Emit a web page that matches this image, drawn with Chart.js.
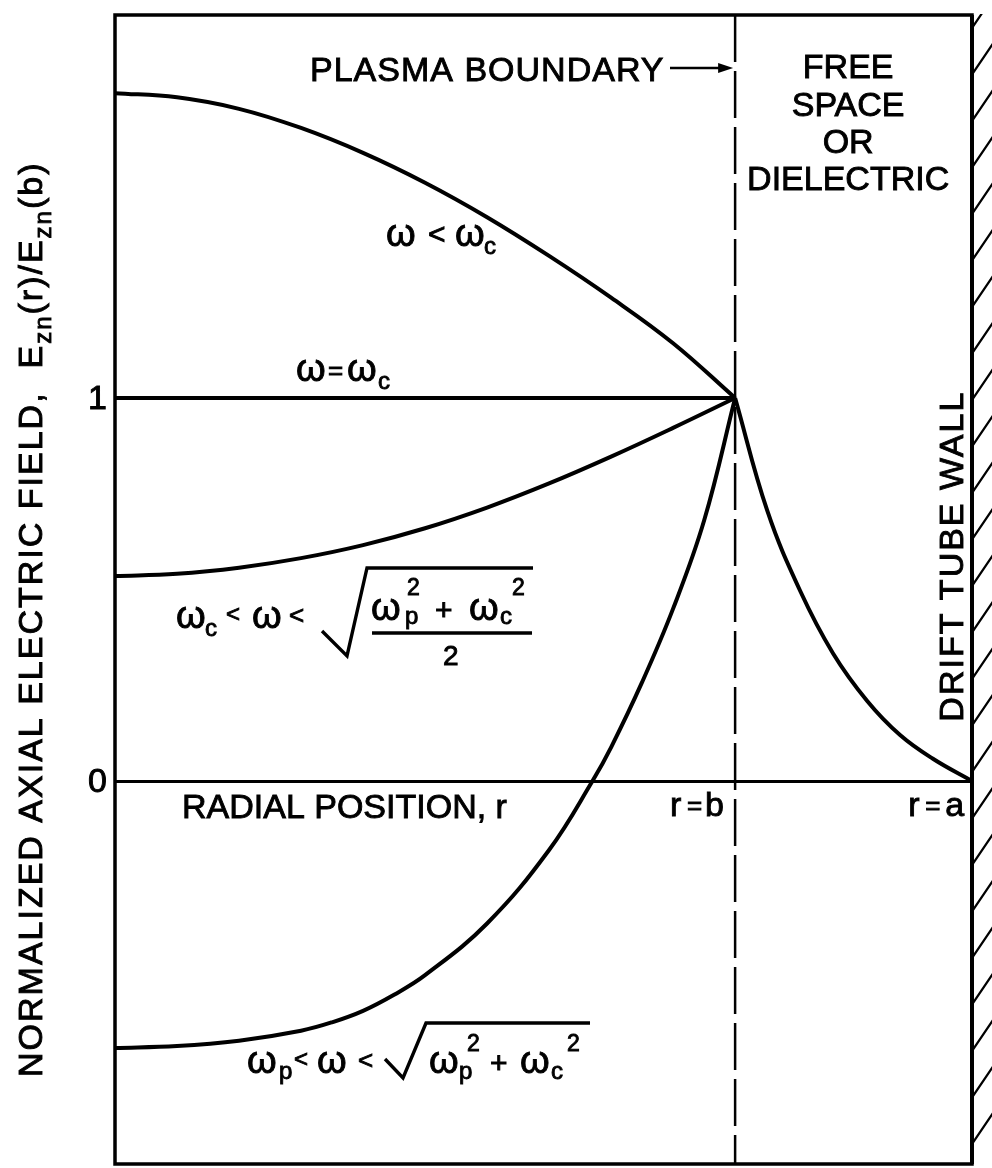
<!DOCTYPE html>
<html>
<head>
<meta charset="utf-8">
<title>Normalized axial electric field vs radial position</title>
<script src="https://cdn.jsdelivr.net/npm/chart.js@4.4.1/dist/chart.umd.min.js"></script>
<style>
  html, body { margin: 0; padding: 0; background: #fff; }
  #wrap { width: 992px; height: 1168px; position: relative; }
</style>
</head>
<body>
<div id="wrap"><canvas id="chart"></canvas></div>
<script>
// Radial position is normalised to the plasma radius: r = b at 1, the drift tube wall r = a.
const R_PLASMA_B = 1.0;
const R_WALL_A = 1.382;
const E_MIN = -1;
const E_MAX = 2;

// omega < omega_c
const rBelowCyclotron = [0, 0.1, 0.2, 0.3, 0.4, 0.5, 0.6, 0.7, 0.8, 0.9, 1.0];
const eBelowCyclotron = [1.796, 1.785, 1.755, 1.705, 1.640, 1.562, 1.472, 1.371, 1.262, 1.143, 1.0];

// omega = omega_c
const rAtCyclotron = [0, 1.0];
const eAtCyclotron = [1.0, 1.0];

// omega_c < omega < sqrt((omega_p^2 + omega_c^2) / 2)
const rAboveCyclotron = [0, 0.1, 0.2, 0.3, 0.4, 0.5, 0.6, 0.7, 0.8, 0.9, 1.0];
const eAboveCyclotron = [0.535, 0.541, 0.557, 0.582, 0.616, 0.660, 0.714, 0.777, 0.847, 0.922, 1.0];

// omega_p < omega < sqrt(omega_p^2 + omega_c^2)
const rAbovePlasma = [0, 0.1, 0.2, 0.3, 0.35, 0.4, 0.45, 0.5, 0.6, 0.7, 0.77, 0.8, 0.85, 0.9, 0.95, 1.0];
const eAbovePlasma = [-0.697, -0.692, -0.678, -0.652, -0.630, -0.600, -0.558, -0.507, -0.372, -0.180, 0.0, 0.088, 0.258, 0.450, 0.680, 1.0];

// field outside the plasma, decaying to zero at the conducting wall
const rFreeSpace = [1.0, 1.052, 1.105, 1.158, 1.213, 1.266, 1.319, 1.382];
const eFreeSpace = [1.0, 0.705, 0.496, 0.333, 0.209, 0.120, 0.058, 0.0];

// plasma boundary marker r = b
const rBoundary = [R_PLASMA_B, R_PLASMA_B];
const eBoundary = [E_MAX, E_MIN];

// labelled ticks on the field axis
const eTickValues = [0, 1];
const eTickLabels = ['0', '1'];

const FONT = '"Liberation Sans", Arial, Helvetica, sans-serif';
const INK = '#000';

function points(rs, es) {
  return rs.map((r, i) => ({ x: r, y: es[i] }));
}

function curve(rs, es, extra) {
  return Object.assign({
    data: points(rs, es),
    showLine: true,
    borderColor: INK,
    borderWidth: 4,
    pointRadius: 0,
    pointHoverRadius: 0,
    fill: false,
    tension: 0.4,
    capBezierPoints: true
  }, extra || {});
}

function setSpacing(ctx, px) {
  if ('letterSpacing' in ctx) ctx.letterSpacing = px + 'px';
}

// lettering: filled glyphs with a thin outline for a pen-drawn weight
function put(ctx, t, x, y) {
  ctx.fillText(t, x, y);
  ctx.lineWidth = 0.9;
  ctx.strokeText(t, x, y);
}

// draws a list of text pieces [text, dx, dy, size] relative to an anchor
function pieces(ctx, x0, y0, list) {
  ctx.textAlign = 'left';
  ctx.textBaseline = 'alphabetic';
  for (const [t, dx, dy, size] of list) {
    ctx.font = size + 'px ' + FONT;
    put(ctx, t, x0 + dx, y0 + dy);
  }
}

// radical sign: short lead-in, down stroke, long up stroke, then the vinculum
function radical(ctx, x0, y0, p) {
  ctx.lineWidth = 3.4;
  ctx.lineJoin = 'miter';
  ctx.beginPath();
  ctx.moveTo(x0 + p.start[0], y0 + p.start[1]);
  ctx.lineTo(x0 + p.bottom[0], y0 + p.bottom[1]);
  ctx.lineTo(x0 + p.top[0], y0 + p.top[1]);
  ctx.lineTo(x0 + p.end, y0 + p.top[1]);
  ctx.stroke();
}

const figurePlugin = {
  id: 'figureDecor',
  afterDatasetsDraw(chart) {
    const { ctx, chartArea: ca, scales } = chart;
    const px = v => scales.x.getPixelForValue(v);
    const py = v => scales.y.getPixelForValue(v);
    ctx.save();
    ctx.fillStyle = INK;
    ctx.strokeStyle = INK;

    // plot frame
    ctx.lineWidth = 3.5;
    ctx.strokeRect(ca.left, ca.top, ca.right - ca.left, ca.bottom - ca.top);
    // drift tube wall
    ctx.lineWidth = 4;
    ctx.beginPath();
    ctx.moveTo(px(R_WALL_A), ca.top);
    ctx.lineTo(px(R_WALL_A), ca.bottom);
    ctx.stroke();

    // hatching behind the wall
    ctx.save();
    ctx.beginPath();
    ctx.rect(ca.right + 1, ca.top - 1, chart.width - ca.right, ca.bottom - ca.top + 2);
    ctx.clip();
    ctx.lineWidth = 2.2;
    ctx.beginPath();
    for (let yy = ca.bottom - 20; yy > ca.top - 40; yy -= 46.5) {
      ctx.moveTo(ca.right, yy);
      ctx.lineTo(ca.right + 21, yy - 31);
    }
    ctx.stroke();
    ctx.restore();

    // field axis tick labels
    ctx.font = '34px ' + FONT;
    ctx.textAlign = 'right';
    ctx.textBaseline = 'middle';
    eTickValues.forEach((v, i) => put(ctx, eTickLabels[i], ca.left - 8, py(v) + 2));

    // region captions
    ctx.textBaseline = 'alphabetic';
    ctx.textAlign = 'left';
    setSpacing(ctx, 1);
    put(ctx, 'PLASMA BOUNDARY', px(0.3145), py(1.8277));
    setSpacing(ctx, 0);

    // arrow to the boundary
    const ay = py(1.8616);
    const ax0 = px(0.895), ax1 = px(R_PLASMA_B) - 2;
    ctx.lineWidth = 2.5;
    ctx.beginPath();
    ctx.moveTo(ax0, ay);
    ctx.lineTo(ax1 - 10, ay);
    ctx.stroke();
    ctx.beginPath();
    ctx.moveTo(ax1, ay);
    ctx.lineTo(ax1 - 15, ay - 5);
    ctx.lineTo(ax1 - 15, ay + 5);
    ctx.closePath();
    ctx.fill();

    ctx.textAlign = 'center';
    const cx = px(1.1823);
    put(ctx, 'FREE', cx, py(1.8355));
    put(ctx, 'SPACE', cx, py(1.7363));
    put(ctx, 'OR', cx, py(1.6397));
    put(ctx, 'DIELECTRIC', cx, py(1.5431));

    // radial axis captions
    ctx.textAlign = 'left';
    put(ctx, 'RADIAL POSITION, r', px(0.108), py(-0.0966));
    pieces(ctx, px(0.895), py(-0.0914), [['r', 0, 0, 34], ['=', 17, -2, 26], ['b', 35, 0, 34]]);
    pieces(ctx, px(1.279), py(-0.0914), [['r', 0, 0, 34], ['=', 17, -2, 26], ['a', 37, 0, 34]]);

    // drift tube wall caption
    ctx.save();
    ctx.translate(px(1.3677), py(0.587));
    ctx.rotate(-Math.PI / 2);
    ctx.textAlign = 'center';
    ctx.font = '34px ' + FONT;
    setSpacing(ctx, 2);
    put(ctx, 'DRIFT TUBE WALL', 0, 0);
    ctx.restore();

    // curve labels
    pieces(ctx, px(0.4387), py(1.3969), [
      ['ω', -1, 0, 38], ['<', 41, -2, 30], ['ω', 68, 0, 38], ['c', 97, 8, 24]
    ]);
    pieces(ctx, px(0.2935), py(1.0444), [
      ['ω', -1, 0, 38], ['=', 31, -2, 26], ['ω', 50, 0, 38], ['c', 81, 8, 24]
    ]);

    // omega_c < omega < sqrt((omega_p^2 + omega_c^2)/2)
    const l3x = px(0.100), l3y = py(0.3995);
    pieces(ctx, l3x, l3y, [
      ['ω', -1, 0, 38], ['c', 28, 8, 24], ['<', 49, -6, 24], ['ω', 75, 0, 38], ['<', 112, -4, 26],
      ['ω', 194, -8, 38], ['p', 228, -4, 24], ['2', 230, -33, 23],
      ['+', 258, -8, 30],
      ['ω', 292, -8, 38], ['c', 323, -4, 24], ['2', 335, -33, 23],
      ['2', 266, 37, 28]
    ]);
    radical(ctx, l3x, l3y, { start: [145, 3], bottom: [170, 28], top: [190, -60], end: 356 });
    ctx.lineWidth = 3.4;
    ctx.beginPath();
    ctx.moveTo(l3x + 195, l3y + 5);
    ctx.lineTo(l3x + 355, l3y + 5);
    ctx.stroke();

    // omega_p < omega < sqrt(omega_p^2 + omega_c^2)
    const l4x = px(0.2145), l4y = py(-0.7624);
    pieces(ctx, l4x, l4y, [
      ['ω', -1, 0, 38], ['p', 31, 6, 24], ['<', 46, -6, 24], ['ω', 69, 0, 38], ['<', 110, -4, 26],
      ['ω', 181, 0, 38], ['p', 211, 6, 24], ['2', 219, -22, 23],
      ['+', 242, 0, 30],
      ['ω', 272, 0, 38], ['c', 303, 6, 24], ['2', 319, -22, 23]
    ]);
    radical(ctx, l4x, l4y, { start: [137, -14], bottom: [155, 5], top: [178, -50], end: 342 });

    // field axis title
    ctx.save();
    ctx.translate(ca.left - 73, ca.bottom - 87);
    ctx.rotate(-Math.PI / 2);
    setSpacing(ctx, 2);
    let u = 0;
    const title = [
      ['NORMALIZED AXIAL ELECTRIC FIELD,  E', 0, 34], ['zn', 9, 24], ['(r)/E', 0, 34], ['zn', 9, 24], ['(b)', 0, 34]
    ];
    ctx.textAlign = 'left';
    for (const [t, dv, size] of title) {
      ctx.font = size + 'px ' + FONT;
      put(ctx, t, u, dv);
      u += ctx.measureText(t).width;
    }
    ctx.restore();

    ctx.restore();
  }
};

new Chart(document.getElementById('chart'), {
  type: 'scatter',
  data: {
    datasets: [
      curve(rBelowCyclotron, eBelowCyclotron),
      curve(rAtCyclotron, eAtCyclotron, { tension: 0 }),
      curve(rAboveCyclotron, eAboveCyclotron),
      curve(rAbovePlasma, eAbovePlasma),
      curve(rFreeSpace, eFreeSpace),
      curve(rBoundary, eBoundary, { borderWidth: 2.5, borderDash: [47, 9], tension: 0 })
    ]
  },
  options: {
    responsive: true,
    maintainAspectRatio: false,
    animation: false,
    events: [],
    layout: { padding: { left: 0, right: 20, top: 15, bottom: 4 } },
    plugins: { legend: { display: false }, tooltip: { enabled: false }, title: { display: false } },
    scales: {
      x: { type: 'linear', min: 0, max: R_WALL_A, display: false },
      y: {
        type: 'linear',
        min: E_MIN,
        max: E_MAX,
        afterFit(scale) { scale.width = 115; },
        border: { display: false },
        grid: {
          drawTicks: false,
          lineWidth: 3,
          color: c => (c.tick && c.tick.value === 0) ? INK : 'rgba(0,0,0,0)'
        },
        ticks: { stepSize: 1, display: false }
      }
    }
  },
  plugins: [figurePlugin]
});
</script>
</body>
</html>
